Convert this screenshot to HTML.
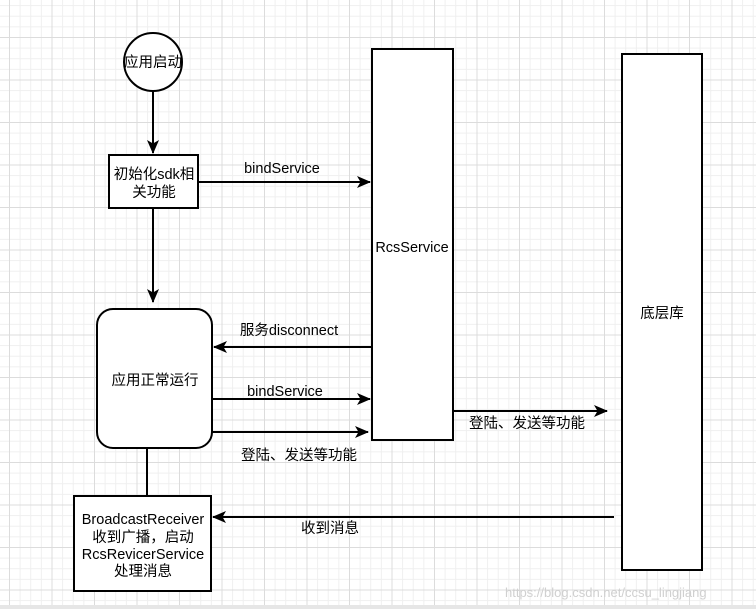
<!DOCTYPE html>
<html><head><meta charset="utf-8"><style>
html,body{margin:0;padding:0}
body{width:756px;height:609px;overflow:hidden;background:#fff;position:relative;
font-family:"Liberation Sans","Noto Sans CJK SC",sans-serif;}
.grid{position:absolute;left:0;top:0;width:756px;height:605px;
background-image:
linear-gradient(to right,#dcdcdc 1px,transparent 1px),
linear-gradient(to bottom,#dcdcdc 1px,transparent 1px),
linear-gradient(to right,#efefef 1px,transparent 1px),
linear-gradient(to bottom,#efefef 1px,transparent 1px);
background-size:42.5px 42.5px,42.5px 42.5px,10.625px 10.625px,10.625px 10.625px;
background-position:9px 37px,9px 37px,9px 37px,9px 37px;}
.bot{position:absolute;left:0;top:605px;width:756px;height:4px;background:#e6e6e6}
svg{position:absolute;left:0;top:0}
text{font-family:"Liberation Sans","Noto Sans CJK SC",sans-serif;font-size:14.5px;fill:#000}
</style></head><body>
<div class="grid"></div><div class="bot"></div>
<svg width="756" height="609">
<defs><marker id="a" markerWidth="14" markerHeight="12" refX="13" refY="6" orient="auto" markerUnits="userSpaceOnUse"><path d="M0,0 L14,6 L0,12 L3.5,6 Z" fill="#000"/></marker></defs>
<g stroke="#000" stroke-width="2" fill="#fff">
<circle cx="153" cy="62" r="29"/>
<rect x="109" y="155" width="89" height="53"/>
<rect x="372" y="49" width="81" height="391"/>
<rect x="97" y="309" width="115" height="139" rx="16"/>
<rect x="74" y="496" width="137" height="95"/>
<rect x="622" y="54" width="80" height="516"/>
</g>
<g stroke="#000" stroke-width="2" fill="none">
<line x1="153" y1="91" x2="153" y2="153" marker-end="url(#a)"/>
<line x1="198" y1="182" x2="370" y2="182" marker-end="url(#a)"/>
<line x1="153" y1="208" x2="153" y2="302" marker-end="url(#a)"/>
<line x1="371" y1="347" x2="214" y2="347" marker-end="url(#a)"/>
<line x1="212" y1="399" x2="370" y2="399" marker-end="url(#a)"/>
<line x1="212" y1="432" x2="368" y2="432" marker-end="url(#a)"/>
<line x1="147" y1="448" x2="147" y2="496"/>
<line x1="453" y1="411" x2="607" y2="411" marker-end="url(#a)"/>
<line x1="614" y1="517" x2="213" y2="517" marker-end="url(#a)"/>
</g>
<text x="153" y="67" text-anchor="middle">应用启动</text>
<text x="154" y="179" text-anchor="middle">初始化sdk相</text>
<text x="154" y="197" text-anchor="middle">关功能</text>
<text x="282" y="173" text-anchor="middle">bindService</text>
<text x="412" y="252" text-anchor="middle">RcsService</text>
<text x="289" y="335" text-anchor="middle">服务disconnect</text>
<text x="155" y="385" text-anchor="middle">应用正常运行</text>
<text x="285" y="396" text-anchor="middle">bindService</text>
<text x="299" y="460" text-anchor="middle">登陆、发送等功能</text>
<text x="527" y="428" text-anchor="middle">登陆、发送等功能</text>
<text x="662" y="318" text-anchor="middle">底层库</text>
<text x="330" y="533" text-anchor="middle">收到消息</text>
<text x="143" y="524" text-anchor="middle">BroadcastReceiver</text>
<text x="143" y="542" text-anchor="middle">收到广播，启动</text>
<text x="143" y="559" text-anchor="middle">RcsRevicerService</text>
<text x="143" y="576" text-anchor="middle">处理消息</text>
<text x="505" y="597" style="fill:#d0d0d0;font-size:13px">https://blog.csdn.net/ccsu_lingjiang</text>
</svg>
</body></html>
